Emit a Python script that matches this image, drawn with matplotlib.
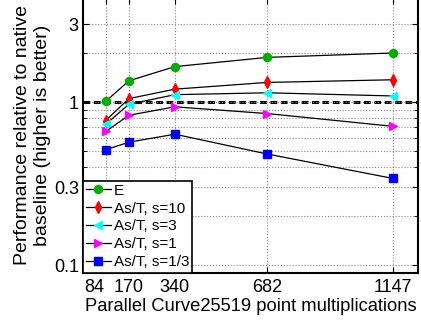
import matplotlib.pyplot as plt
import matplotlib.transforms as mtransforms
from matplotlib.ticker import FixedLocator, NullFormatter, FixedFormatter

plt.rcParams['font.family'] = ['Liberation Sans', 'DejaVu Sans']

x = [84, 170, 340, 682, 1147]
e_vals = [1.01, 1.35, 1.65, 1.88, 2.0]
s10 = [0.77, 1.05, 1.20, 1.32, 1.37]
s3 = [0.73, 0.97, 1.11, 1.14, 1.09]
s1 = [0.66, 0.83, 0.935, 0.85, 0.71]
s13 = [0.51, 0.567, 0.635, 0.48, 0.34]

series = [
    (e_vals, 'E', 'o', '#00b000'),
    (s10, 'As/T, s=10', 'd', 'red'),
    (s3, 'As/T, s=3', '<', 'cyan'),
    (s1, 'As/T, s=1', '>', 'magenta'),
    (s13, 'As/T, s=1/3', 's', 'blue'),
]

fig = plt.figure(figsize=(4.21, 3.21), dpi=100)
ax = fig.add_axes([83/421, 48.5/321, 335/421, 274.5/321])

ax.axhline(1, color='black', linestyle='--', linewidth=2.2, dashes=(2.2, 1.2), zorder=1)
for vals, name, mk, col in series:
    ax.plot(x, vals, color='black', linewidth=0.9, marker=mk, markersize=5.8,
            markerfacecolor=col, markeredgecolor=col, label=name, zorder=3)

ax.set_yscale('log')
ax.set_ylim(0.09, 4.35)
ax.set_xlim(0, 1240)

ax.xaxis.set_major_locator(FixedLocator(x))
ax.xaxis.set_major_formatter(FixedFormatter([str(v) for v in x]))
ax.yaxis.set_major_locator(FixedLocator([0.1, 0.3, 1, 3]))
ax.yaxis.set_major_formatter(FixedFormatter(['0.1', '0.3', '1', '3']))
minors = [0.2, 0.4, 0.5, 0.6, 0.7, 0.8, 0.9, 2]
ax.yaxis.set_minor_locator(FixedLocator(minors))
ax.yaxis.set_minor_formatter(NullFormatter())

ax.tick_params(which='both', direction='in', top=True, right=True, labelsize=13)
ax.tick_params(which='major', length=4.5, pad=3)
ax.tick_params(axis='x', pad=5)
ax.tick_params(which='minor', length=3)
ax.grid(True, which='both', linestyle=':', color='#888888', linewidth=0.8)
for sp in ax.spines.values():
    sp.set_linewidth(1.5)
ax.spines['top'].set_visible(False)

fig.canvas.draw()
# first label nudged left so it does not run into "170"
lbl = ax.get_xticklabels()[0]
lbl.set_transform(lbl.get_transform() + mtransforms.ScaledTranslation(-8/72, 0, fig.dpi_scale_trans))

ax.set_xlabel('Parallel Curve25519 point multiplications', fontsize=13.2, labelpad=1)
ax.set_ylabel('Performance relative to native\nbaseline (higher is better)', fontsize=14, labelpad=2)

leg = ax.legend(loc='lower left', fontsize=11, fancybox=False, framealpha=1,
                edgecolor='black', handlelength=1.6, handletextpad=0.2,
                labelspacing=0.26, borderpad=0.2, borderaxespad=0.0)
leg.get_frame().set_linewidth(1.2)

fig.savefig('out.png', dpi=100)
